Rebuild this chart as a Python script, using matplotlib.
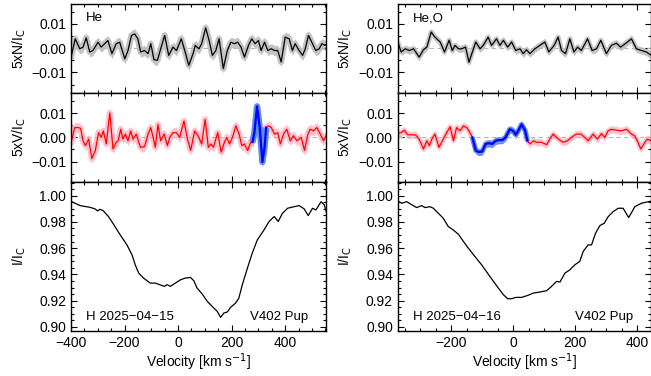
import numpy as np
import matplotlib.pyplot as plt
from matplotlib.ticker import MultipleLocator, FuncFormatter

plt.rcParams['font.family'] = ['Liberation Sans', 'DejaVu Sans']
plt.rcParams['font.size'] = 10

# ---- left column: 2025-04-15, He mask ----
l_vn = [-401, -384, -367, -355, -343, -330, -318, -299, -287, -274, -262, -247, -231, -218, -199,
        -187, -174, -162, -150, -140, -125, -112, -102, -90, -77, -65, -50, -35, -19, -6,
        12, 25, 40, 56, 64, 78, 88, 103, 116, 128, 141, 153, 169, 184, 197,
        211, 223, 235, 248, 263, 275, 288, 300, 310, 323, 335, 348, 360, 372, 385,
        400, 415, 427, 437, 452, 465, 475, 487, 502, 514, 527, 537, 549, 556]
l_n = [-0.0044, 0.0038, -0.0003, 0.0004, 0.0042, -0.0016, -0.001, 0.0024, 0.0004, 0.0018,
       0.0031, -0.0023, 0.0018, 0.0024, -0.0044, -0.001, 0.0052, 0.0058, 0.0038, -0.0016,
       -0.001, -0.0023, 0.0018, -0.0048, -0.005, -0.0003, 0.0052, -0.003, 0.0004, -0.001,
       0.0038, -0.001, -0.0071, -0.0023, 0.0011, -0.0003, 0.0018, 0.0083, 0.0031, -0.003,
       -0.001, 0.0038, -0.0084, -0.001, 0.0024, 0.0018, 0.0024, 0.0004, -0.0037, 0.0011,
       0.0038, 0.0018, 0.0031, -0.001, 0.0024, -0.001, -0.0003, -0.001, -0.001, -0.0057,
       0.0045, 0.0038, -0.001, 0.0018, -0.001, -0.003, -0.0003, 0.0052, 0.0018, -0.001,
       -0.0003, 0.0018, 0.0011, 0.0018]
l_vv = [-405, -399, -386, -374, -364, -355, -346, -334, -322, -309, -297, -287, -279, -268, -255,
        -243, -231, -224, -214, -206, -197, -187, -177, -168, -156, -147, -140, -125, -112, -102,
        -93, -85, -75, -65, -52, -40, -31, -19, -6, 6, 22, 35, 47, 62, 76,
        88, 101, 113, 123, 132, 141, 148, 161, 173, 182, 192, 203, 216, 228, 238,
        248, 260, 273, 278, 285, 295, 305, 315, 323, 329, 338, 348, 360, 372, 382,
        394, 406, 419, 431, 444, 460, 472, 485, 493, 506, 518, 531, 543, 556]
l_v = [0.0, -0.002, 0.0041, 0.0041, 0.0038, -0.0014, -0.0034, -0.0007, -0.0088, -0.0054,
       0.002, 0.0, 0.0027, -0.0027, 0.0102, -0.0048, -0.002, -0.0014, 0.0034, -0.0007,
       0.0014, -0.0014, 0.0027, -0.0007, 0.0014, -0.002, -0.0041, -0.0038, 0.0014, 0.0041,
       0.0, -0.0041, 0.0054, -0.0014, 0.0014, -0.0034, 0.0, 0.002, 0.002, 0.0,
       0.0068, -0.0007, -0.0054, 0.0027, 0.0004, -0.0027, 0.0075, -0.0041, -0.0027, -0.0041,
       -0.0007, 0.002, -0.0061, -0.002, 0.0, -0.0027, 0.0, 0.0048, 0.0014, -0.0034,
       -0.0027, -0.0054, -0.0014, -0.002, 0.002, 0.0129, 0.0041, -0.0102, -0.0041, 0.0041,
       0.0048, 0.0041, 0.0014, 0.002, -0.0027, 0.0014, 0.0034, -0.0014, 0.0007, -0.0014,
       0.0, -0.0054, 0.0014, 0.0034, 0.0027, 0.0041, 0.0014, -0.0014, 0.0014]
l_vi = [-397, -366, -329, -310, -301, -291, -279, -260, -241, -216, -191, -172, -160, -147, -129,
        -104, -85, -69, -51, -41, -29, -10, 9, 27, 46, 59, 71, 90, 109, 127,
        146, 159, 171, 184, 196, 215, 227, 240, 259, 277, 296, 321, 340, 359, 374,
        390, 409, 434, 452, 471, 486, 502, 515, 534, 546, 554]
l_i = [0.9954, 0.9924, 0.9911, 0.9899, 0.9884, 0.9896, 0.9884, 0.9841, 0.9782, 0.9701,
       0.9625, 0.9549, 0.9473, 0.9410, 0.9372, 0.9334, 0.9334, 0.9322, 0.9309, 0.9322,
       0.9309, 0.9334, 0.9359, 0.9372, 0.9377, 0.9352, 0.9296, 0.9251, 0.9195, 0.9157,
       0.9119, 0.9073, 0.9106, 0.9114, 0.9149, 0.9182, 0.9220, 0.9322, 0.9448, 0.9562,
       0.9663, 0.9739, 0.9803, 0.9841, 0.9803, 0.9866, 0.9904, 0.9916, 0.9924, 0.9899,
       0.9848, 0.9904, 0.9891, 0.9954, 0.9929, 0.9873]
l_det = (278, 329)

# ---- right column: 2025-04-16, He,O mask ----
r_vn = [-373, -362, -349, -336, -322, -315, -304, -290, -279, -265, -253, -236, -222, -207, -197,
        -188, -177, -167, -154, -143, -132, -121, -107, -97, -81, -70, -54, -43, -32, -18,
        -5, 8, 22, 32, 43, 54, 70, 86, 102, 115, 132, 145, 156, 169, 183,
        196, 208, 220, 240, 255, 269, 283, 301, 317, 333, 347, 362, 382, 398, 414,
        430, 446]
r_n = [0.0025, -0.0016, -0.0003, -0.001, -0.0003, -0.0016, -0.0037, -0.0007, 0.0004, 0.0066,
       0.0045, 0.0025, -0.0016, 0.0032, -0.001, 0.0011, -0.0003, -0.0003, 0.0004, -0.0058,
       -0.0016, 0.0025, -0.0003, 0.0011, 0.0045, 0.0011, 0.0038, 0.0011, 0.0032, 0.0004,
       0.0025, -0.001, -0.0003, -0.0023, -0.0007, -0.0023, -0.0003, 0.0011, 0.0025, -0.0016,
       0.0011, 0.0045, -0.001, -0.0023, 0.0038, -0.0016, 0.0004, -0.001, 0.0038, -0.001,
       -0.0003, 0.0032, -0.0023, 0.0011, 0.002, 0.0004, 0.0018, 0.0038, -0.0003, -0.001,
       -0.0016, -0.003]
r_vv = [-373, -362, -352, -341, -328, -315, -304, -290, -279, -271, -263, -253, -240, -226, -215,
        -204, -193, -183, -172, -161, -150, -140, -132, -121, -111, -100, -89, -78, -68, -57,
        -46, -35, -25, -11, 0, 8, 16, 27, 38, 46, 54, 65, 75, 91, 108,
        118, 129, 140, 150, 161, 175, 188, 204, 218, 231, 242, 258, 272, 285, 296,
        306, 317, 333, 349, 366, 382, 392, 403, 412, 422, 433, 446]
r_v = [0.0016, 0.002, 0.003, 0.0011, 0.0011, 0.001, -0.0007, -0.0048, -0.0014, -0.0034,
       -0.0007, 0.0014, -0.0041, -0.0007, 0.002, 0.0044, -0.0014, 0.0041, 0.0027, 0.0048,
       0.0041, 0.002, 0.0, -0.0054, -0.0061, -0.0058, -0.0027, -0.0024, -0.0027, -0.0014,
       -0.0011, -0.0011, 0.0, 0.0034, 0.0027, 0.0011, 0.0027, 0.0054, 0.003, -0.0014,
       -0.0027, -0.0014, -0.002, -0.002, -0.003, -0.0007, 0.0014, 0.0, -0.0011, -0.002,
       -0.0014, 0.0, 0.0014, 0.0014, 0.0, -0.0014, 0.0014, -0.0007, 0.0016, 0.0,
       0.0027, 0.0034, 0.003, 0.0027, 0.0034, 0.0014, 0.0007, -0.002, -0.0048, -0.0027,
       -0.0007, -0.0014]
r_vi = [-373, -360, -344, -330, -312, -296, -285, -269, -258, -242, -226, -210, -194, -177, -161,
        -145, -124, -102, -81, -64, -48, -32, -18, -5, 8, 27, 48, 65, 86, 108,
        124, 140, 151, 167, 183, 199, 215, 226, 242, 253, 266, 280, 294, 307, 323,
        339, 355, 373, 393, 414, 446]
r_i = [0.9959, 0.9942, 0.9954, 0.9934, 0.9909, 0.9924, 0.9909, 0.9916, 0.9904, 0.9866,
       0.9828, 0.9765, 0.9739, 0.9706, 0.9651, 0.9600, 0.9537, 0.9473, 0.9403, 0.9347,
       0.9296, 0.9246, 0.9215, 0.9215, 0.9225, 0.9225, 0.9241, 0.9258, 0.9266, 0.9276,
       0.9309, 0.9347, 0.9342, 0.9410, 0.9435, 0.9473, 0.9499, 0.9575, 0.9625, 0.9625,
       0.9714, 0.9772, 0.9790, 0.9841, 0.9878, 0.9904, 0.9904, 0.9833, 0.9916, 0.9942,
       0.9959]
r_det = (-132, 46)

# error bars (1 sigma) of the N and V profiles, per night
n_err = [0.0021, 0.0015]
v_err = [0.0021, 0.0015]

fig = plt.figure(figsize=(6.51, 3.76), dpi=100)

cols = [
    dict(x0=0.109, w=0.392, xlim=(-400, 553), vn=l_vn, n=l_n, vv=l_vv, v=l_v, vi=l_vi, i=l_i,
         det=l_det, mask='He', date='H 2025\u221204\u221215', lab=-0.17, bw=4.5),
    dict(x0=0.611, w=0.3885, xlim=(-373, 444), vn=r_vn, n=r_n, vv=r_vv, v=r_v, vi=r_vi, i=r_i,
         det=r_det, mask='He,O', date='H 2025\u221204\u221216', lab=-0.175, bw=3.6),
]

rows = [(0.753, 0.237), (0.516, 0.237), (0.120, 0.396)]

# long minus in tick labels, like the original
fmt = FuncFormatter(lambda y, pos: ('%.2f' % y).replace('-', '\u2212'))


def style(ax, ymaj, ymin):
    ax.xaxis.set_major_locator(MultipleLocator(200))
    ax.xaxis.set_minor_locator(MultipleLocator(50))
    ax.yaxis.set_major_locator(MultipleLocator(ymaj))
    ax.yaxis.set_minor_locator(MultipleLocator(ymin))
    ax.yaxis.set_major_formatter(fmt)
    ax.tick_params(which='both', direction='in', top=True, right=True, labelsize=10)
    ax.tick_params(which='major', length=4, width=0.8)
    ax.tick_params(which='minor', length=2, width=0.8)
    for s in ax.spines.values():
        s.set_linewidth(1.0)


def band(ax, x, y, err, col, bw):
    # shaded +-err band; the line keeps it from pinching on steep slopes
    ax.fill_between(x, y - err, y + err, color=col, lw=0)
    ax.plot(x, y, color=col, lw=bw, solid_joinstyle='round', solid_capstyle='butt')


for k, c in enumerate(cols):
    axN = fig.add_axes([c['x0'], rows[0][0], c['w'], rows[0][1]])
    axV = fig.add_axes([c['x0'], rows[1][0], c['w'], rows[1][1]])
    axI = fig.add_axes([c['x0'], rows[2][0], c['w'], rows[2][1]])

    # null profile
    vn = np.array(c['vn'])
    n = np.array(c['n'])
    band(axN, vn, n, n_err[k], '#c4c4c4', c['bw'])
    axN.axhline(0, color='#b8b8b8', lw=0.8, ls=(0, (4, 3)))
    axN.plot(vn, n, color='black', lw=0.9)
    axN.set_ylim(-0.0184, 0.0182)
    axN.set_ylabel(r'5xN/I$_\mathrm{C}$')
    axN.text(0.06, 0.84, c['mask'], transform=axN.transAxes, fontsize=9.5, va='center')

    # Stokes V, detection window in blue
    vv = np.array(c['vv'])
    v = np.array(c['v'])
    band(axV, vv, v, v_err[k], '#ffc2cf', c['bw'])
    axV.axhline(0, color='#b8b8b8', lw=0.8, ls=(0, (4, 3)))
    axV.plot(vv, v, color='red', lw=0.9)
    m = (vv >= c['det'][0]) & (vv <= c['det'][1])
    band(axV, vv[m], v[m], v_err[k], '#5b8fe8', c['bw'])
    axV.plot(vv[m], v[m], color='#0000ff', lw=1.6)
    axV.set_ylim(-0.0185, 0.0185)
    axV.set_ylabel(r'5xV/I$_\mathrm{C}$')

    # Stokes I
    axI.plot(c['vi'], c['i'], color='black', lw=0.9)
    axI.set_ylim(0.897, 1.0104)
    axI.set_ylabel(r'I/I$_\mathrm{C}$')
    axI.set_xlabel(r'Velocity [km s$^{-1}$]', labelpad=1)
    axI.text(0.06, 0.09, c['date'], transform=axI.transAxes, fontsize=9.5, va='center')
    axI.text(0.93, 0.09, 'V402 Pup', transform=axI.transAxes, fontsize=9.5, va='center', ha='right')

    for ax in (axN, axV, axI):
        ax.set_xlim(*c['xlim'])
    style(axN, 0.01, 0.005)
    style(axV, 0.01, 0.005)
    style(axI, 0.02, 0.005)
    axN.tick_params(labelbottom=False)
    axV.tick_params(labelbottom=False)
    for ax in (axN, axV, axI):
        ax.yaxis.set_label_coords(c['lab'], 0.5)

fig.savefig('out.png', dpi=100)
